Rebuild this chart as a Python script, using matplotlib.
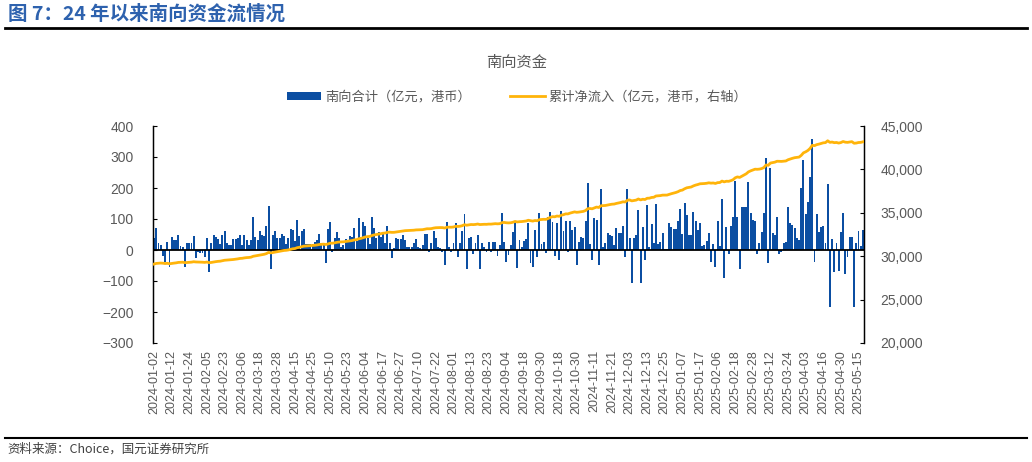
import numpy as np
import matplotlib.pyplot as plt
from matplotlib.ticker import MultipleLocator, FuncFormatter
from matplotlib.patches import Patch
from matplotlib.lines import Line2D

plt.rcParams['font.family'] = ['Noto Sans CJK SC', 'DejaVu Sans']

# x轴标签（每8个交易日一个）
tick_dates = ['2024-01-02', '2024-01-12', '2024-01-24', '2024-02-05', '2024-02-23',
              '2024-03-06', '2024-03-18', '2024-03-28', '2024-04-15', '2024-04-25',
              '2024-05-10', '2024-05-23', '2024-06-04', '2024-06-17', '2024-06-27',
              '2024-07-10', '2024-07-22', '2024-08-01', '2024-08-13', '2024-08-23',
              '2024-09-04', '2024-09-18', '2024-09-30', '2024-10-18', '2024-10-30',
              '2024-11-11', '2024-11-21', '2024-12-03', '2024-12-13', '2024-12-25',
              '2025-01-07', '2025-01-17', '2025-02-06', '2025-02-18', '2025-02-28',
              '2025-03-12', '2025-03-24', '2025-04-03', '2025-04-16', '2025-04-30',
              '2025-05-15']

# 南向合计（亿元，港币），逐日
daily_flow = [
    40, 70, 24, 16, -18, -38, 27, -54, 43, 32,
    32, 50, 13, 11, -54, 21, 21, 21, 45, -27,
    -5, -11, -11, -21, 40, -70, 24, 47, 43, 34,
    19, 48, 60, 21, 16, 16, 34, 34, 38, 50,
    16, 48, 32, 16, 32, 105, 43, 32, 62, 48,
    45, 77, 142, -62, 48, 60, 40, 40, 52, 45,
    18, 40, 68, 66, 30, 96, 45, 62, 68, 20,
    20,
    20, 20, 27, 32, 52, 24, 19, -43, 67, 89,
    -5, 40, 59, 38, 9, 15, 34, 28, 45, 43,
    70, 30, 102, 43, 89, 77, 40, 20, 105, 70,
    38, 59, 43, 56, 22, 77, 22, -25, 5, 40,
    34, 34, 50, 32, 11, 10, 9, 24, 34, 9,
    5, 15, 52, 52, -5, 24, 61, 38, 11, 8,
    -5, -48, 89, 9, -5, 24, 86, -21, 24, 62,
    116, -62, 40, 43, -13, 21, 48, -62,
    21, 11, -5, 27, -5, 27, 27, -19, 16, 120,
    27, -40, -16, 16, 59, 94, -59, 32, 11, 29,
    37, 86, -43, -54, 65, -24, 120, 18, 27, -9,
    105, 124, 89, -18, 86, -32, 127, 62, 94, -5,
    94, 65, 73, -48, 27, 43, 38, 94, 217, 18,
    -32, 102, 97, -48, 197, 11, 21, 56, 48, 45,
    16, 72, 56, 54, 77, -21, 197, 38, -105, 40,
    48, 129, -105, 75, -32, 145, 11, 83, 21, 147,
    18, 27, 54, 3, 2, 86, 75, 68, 68, 94,
    133, 52, 151, 112, 47, 47, 124, 94, 65, 86,
    13, 16, 29, 54, -38, 20, -56, 94, 13, 166,
    -91, 75, -13, 77, 105, 224, 105, -62, 140, 140,
    140, 219, 120, 97, 94, -13, 24, 59, 118, 298,
    -41, 263, 54, 48, 105, -13, -5, 24, 27, 140,
    86, 81, 70, 38, 32, 200, 290, 116, 156, 237,
    357, -40, 116, 59, 75, 77, 24, 213, -183,
    34, -70, 22, -68, 59, 120, -77, -22, 41, 42,
    -185, 24, 62, 13, 66,
]

start_total = 29060  # 首日前的累计净流入
cum_flow = start_total + np.cumsum(daily_flow)

gray = '#595959'
num_font = 'Liberation Sans'

fig = plt.figure(figsize=(10.32, 4.62), dpi=100)
ax = fig.add_axes([153 / 1032, 1 - 343 / 462, (864 - 153) / 1032, (343 - 126) / 462])

x = np.arange(len(daily_flow))
ax.bar(x, daily_flow, width=0.88, color='#0B4EA2', linewidth=0, zorder=2)
ax.axhline(0, color='black', lw=1.3, zorder=3)
ax.set_xlim(-0.5, len(daily_flow) - 0.5)
ax.set_ylim(-300, 400)
ax.yaxis.set_major_locator(MultipleLocator(100))
ax.set_xticks(x[::8][:len(tick_dates)])
ax.set_xticklabels(tick_dates, rotation=90, fontsize=9, color=gray, family=num_font)
ax.tick_params(axis='x', length=0, pad=5)
ax.tick_params(axis='y', direction='in', length=3, labelsize=10, labelcolor=gray, pad=14)
for lab in ax.get_yticklabels():
    lab.set_family(num_font)
for s in ['top', 'bottom']:
    ax.spines[s].set_visible(False)
ax.spines['left'].set_linewidth(1)

ax2 = ax.twinx()
ax2.plot(x, cum_flow, color='#FFB40A', lw=2, zorder=4)
ax2.set_ylim(20000, 45000)
ax2.yaxis.set_major_locator(MultipleLocator(5000))
ax2.yaxis.set_major_formatter(FuncFormatter(lambda v, p: f'{int(v):,}'))
ax2.tick_params(axis='y', direction='in', length=3, labelsize=10, labelcolor=gray, pad=12)
for lab in ax2.get_yticklabels():
    lab.set_family(num_font)
for s in ['top', 'bottom']:
    ax2.spines[s].set_visible(False)
ax2.spines['right'].set_linewidth(1)

handles = [Patch(facecolor='#0B4EA2', edgecolor='none'),
           Line2D([0], [0], color='#FFB40A', lw=2)]
fig.legend(handles, ['南向合计（亿元，港币）', '累计净流入（亿元，港币，右轴）'],
           loc='center', bbox_to_anchor=(517 / 1032, 1 - 97 / 462), ncol=2,
           frameon=False, fontsize=9.5, labelcolor=gray, handlelength=2.6,
           handleheight=0.5, handletextpad=0.3, columnspacing=3.0)

fig.text(517 / 1032, 1 - 62 / 462, '南向资金', ha='center', va='center',
         fontsize=11, color=gray)
fig.text(8 / 1032, 1 - 14 / 462, '图 7：24 年以来南向资金流情况', ha='left', va='center',
         fontsize=14, fontweight='bold', color='#2E62AE')
fig.add_artist(Line2D([5 / 1032, 1027 / 1032], [1 - 28 / 462] * 2, color='black', lw=2))
fig.add_artist(Line2D([5 / 1032, 1027 / 1032], [1 - 438 / 462] * 2, color='black', lw=1.5))
fig.text(7 / 1032, 1 - 449 / 462, '资料来源：Choice，国元证券研究所', ha='left', va='center',
         fontsize=9, color='#404040')

fig.savefig('out.png', dpi=100)
